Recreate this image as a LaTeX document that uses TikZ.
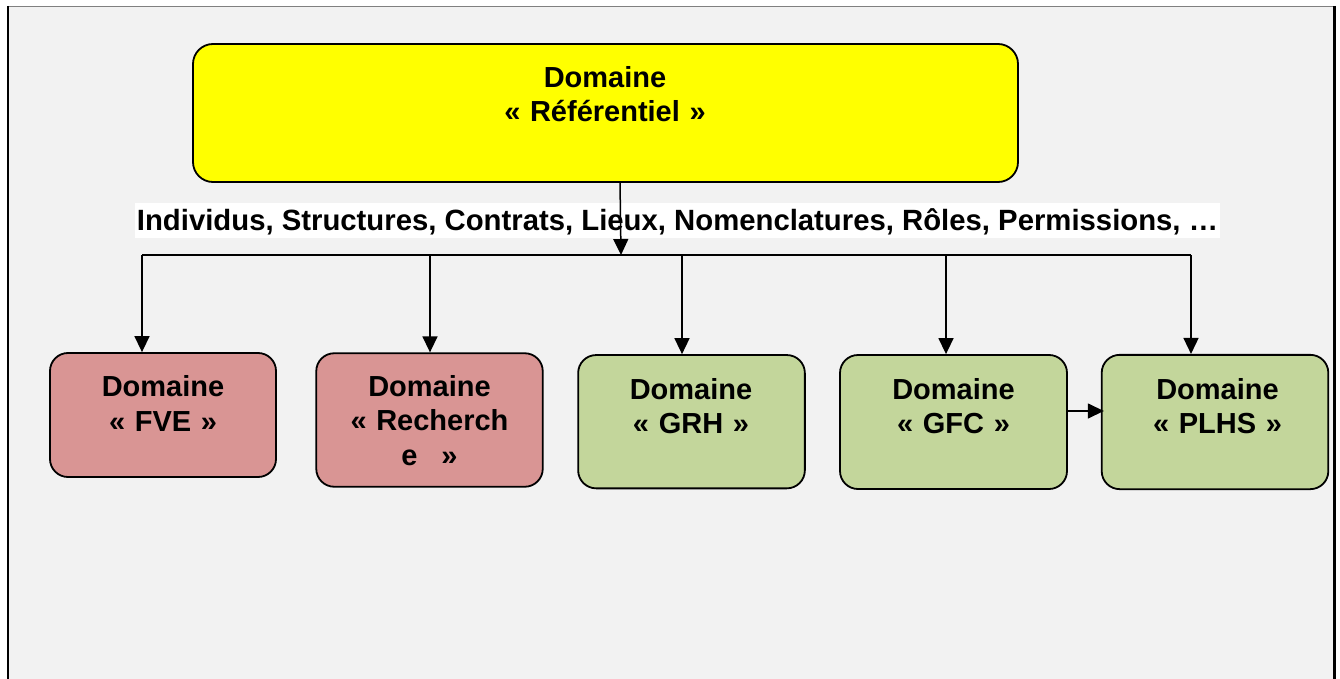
\documentclass[tikz,border=0pt]{standalone}
\usepackage{fontspec}
\setmainfont{Liberation Sans}
\usetikzlibrary{arrows.meta}
\definecolor{bgc}{HTML}{F2F2F2}
\definecolor{ycol}{HTML}{FFFF00}
\definecolor{pcol}{HTML}{D99594}
\definecolor{gcol}{HTML}{C3D69B}
\begin{document}
\begin{tikzpicture}[x=1pt,y=-1pt,
  boxs/.style={draw=black, line width=1.8pt, rounded corners=18pt, inner sep=0pt},
  ybox/.style={boxs, fill=ycol, rounded corners=20pt},
  pbox/.style={boxs, fill=pcol},
  gbox/.style={boxs, fill=gcol},
  txt/.style={font=\fontsize{29}{34.5}\selectfont\bfseries, align=center, inner sep=0pt, anchor=base},
  conn/.style={line width=1.5pt, black},
  arr/.style={conn, -{Triangle[length=16pt,width=15pt]}}]
\useasboundingbox (0,0) rectangle (1340,679);
\clip (0,0) rectangle (1340,679);
\fill[white] (0,0) rectangle (1340,679);
\fill[bgc] (8,7) rectangle (1334,690);
\draw[gray, line width=1pt] (7,6.5) -- (1336,6.5);
\draw[black, line width=2pt] (7.8,6) -- (7.8,690);
\draw[black, line width=2.7pt] (1334.7,6) -- (1334.7,690);

% top box
\node[ybox, minimum width=825pt, minimum height=138pt] (ref) at (605.5,113) {};
\node[txt, text width=400pt] (refT) at (605,87.3) {Domaine\\« Référentiel »};

% label
\node[fill=white, inner xsep=1.5pt, inner ysep=0pt, text height=27pt, text depth=8pt,
      font=\fontsize{29.3}{34}\selectfont\bfseries, anchor=base] (lbl) at (677.5,230)
  {Individus, Structures, Contrats, Lieux, Nomenclatures, Rôles, Permissions, …};

% lower boxes
\node[pbox, minimum width=226pt, minimum height=124pt] (fve) at (163,415) {};
\node[pbox, minimum width=226.5pt, minimum height=133.5pt] (rech) at (429.5,420) {};
\node[gbox, minimum width=226.7pt, minimum height=133.3pt] (grh) at (691.5,421.7) {};
\node[gbox, minimum width=227pt, minimum height=134pt] (gfc) at (953.5,422) {};
\node[gbox, minimum width=226.6pt, minimum height=134.3pt] (plhs) at (1215,422) {};

\node[txt, text width=220pt] (fveT) at (163,396.7) {Domaine\\« FVE »};
\node[txt, text width=220pt] (rechT) at (429.5,396) {Domaine\\« Recherch\\e\hspace{24pt}»};
\node[txt, text width=220pt] (grhT) at (691,399) {Domaine\\« GRH »};
\node[txt, text width=220pt] (gfcT) at (953.5,399) {Domaine\\« GFC »};
\node[txt, text width=220pt] (plhsT) at (1217.5,399) {Domaine\\« PLHS »};

% connectors
\coordinate (a0) at (620,182);
\coordinate (bus) at (621,255);
\coordinate (bl) at (142,255);
\coordinate (br) at (1191,255);
\coordinate (t2) at (430,255);
\coordinate (t3) at (682,255);
\coordinate (t4) at (946,255);
\draw[conn] (bl) -- (br);
\draw[arr] (a0) -- (bus);
\draw[arr] (bl) -- (bl |- fve.north);
\draw[arr] (t2) -- (t2 |- rech.north);
\draw[arr] (t3) -- (t3 |- grh.north);
\draw[arr] (t4) -- (t4 |- gfc.north);
\draw[arr] (br) -- (br |- plhs.north);
\draw[arr] ([yshift=11pt]gfc.east) -- ([yshift=11pt,xshift=3pt]plhs.west);
\end{tikzpicture}
\end{document}
